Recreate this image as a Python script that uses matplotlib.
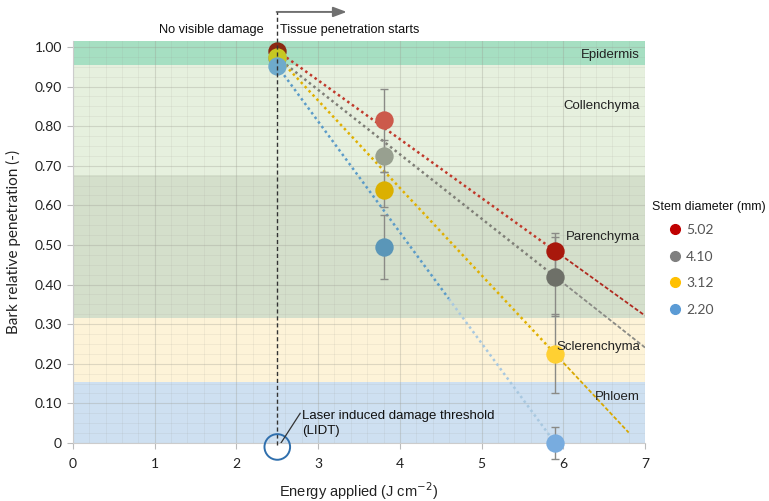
import numpy as np
import matplotlib
matplotlib.use("Agg")
import matplotlib.pyplot as plt
from matplotlib.lines import Line2D
from matplotlib.ticker import MultipleLocator

# ---- data ----
energy = [2.5, 3.8, 5.9]
diameters = ["5.02", "4.10", "3.12", "2.20"]
pen_502 = [0.99, 0.815, 0.485]
pen_410 = [0.973, 0.725, 0.42]
pen_312 = [0.975, 0.64, 0.225]
pen_220 = [0.952, 0.495, 0.0]
err_502 = [0.0, 0.08, 0.045]
err_410 = [0.0, 0.04, 0.10]
err_312 = [0.0, 0.043, 0.10]
err_220 = [0.0, 0.08, 0.04]
trend_end = [7.0, 7.0, 6.8, 5.9]

tissue_names = ["Epidermis", "Collenchyma", "Parenchyma", "Sclerenchyma", "Phloem"]
tissue_low = [0.955, 0.676, 0.316, 0.153, 0.0]
tissue_high = [1.015, 0.955, 0.676, 0.316, 0.153]
tissue_label_y = [0.98, 0.851, 0.52, 0.242, 0.116]

lidt_energy = 2.5
xticks = [0, 1, 2, 3, 4, 5, 6, 7]
yticks = [0, 0.1, 0.2, 0.3, 0.4, 0.5, 0.6, 0.7, 0.8, 0.9, 1.0]
ytick_labels = ["0", "0.10", "0.20", "0.30", "0.40", "0.50", "0.60", "0.70", "0.80", "0.90", "1.00"]

# ---- styles ----
band_colors = ["#a6dfc2", "#e6f0de", "#d4dfcb", "#fdf3d8", "#cee0f1"]
legend_colors = ["#c00000", "#7f7f7f", "#ffc000", "#5b9bd5"]
point_colors = [
    ["#8a2a12", "#cc5a4b", "#a8180c"],
    ["#8a8a80", "#98a090", "#6e7068"],
    ["#c6c823", "#dbb000", "#ffd032"],
    ["#6eaacb", "#5a96b8", "#78acdf"],
]
line_colors = ["#c0392b", "#7f7f77", "#e0b000", "#5b9bc8"]
ext_colors = ["#b02a20", "#8a8a85", "#d8a800", "#a8c8e0"]

series = [pen_502, pen_410, pen_312, pen_220]
errs = [err_502, err_410, err_312, err_220]

W, H = 769, 501
fig = plt.figure(figsize=(W / 100, H / 100), dpi=100)
ax = fig.add_axes([73 / W, 1 - 443 / H, (645 - 73) / W, (443 - 41) / H])
ax.set_xlim(0, 7)
ax.set_ylim(0, 1.015)

# bands
for lo, hi, c in zip(tissue_low, tissue_high, band_colors):
    ax.axhspan(lo, hi, color=c, zorder=0, lw=0)
for name, yl in zip(tissue_names, tissue_label_y):
    ax.text(6.94, yl, name, ha="right", va="center", fontsize=9.5,
            family="Liberation Sans", color="#222222", zorder=6)

# grid
ax.xaxis.set_minor_locator(MultipleLocator(0.2))
ax.yaxis.set_minor_locator(MultipleLocator(0.025))
ax.grid(which="major", color="#9a9a90", alpha=0.32, lw=0.8, zorder=1)
ax.grid(which="minor", color="#9a9a90", alpha=0.14, lw=0.6, zorder=1)
ax.set_axisbelow(True)

# trend lines
for i, (ys, xe) in enumerate(zip(series, trend_end)):
    slope = (ys[2] - ys[0]) / (energy[2] - energy[0])
    y_last = ys[0] + slope * (energy[2] - energy[0])
    if i == 3:
        xm = 4.6
        ym = ys[0] + slope * (xm - energy[0])
        ax.plot([energy[0], xm], [ys[0], ym], color=line_colors[i], lw=1.8,
                ls=(0, (1, 1.3)), zorder=2)
        ax.plot([xm, energy[2]], [ym, y_last], color=ext_colors[i], lw=1.8,
                ls=(0, (1, 1.3)), zorder=2)
    else:
        ax.plot([energy[0], energy[2]], [ys[0], y_last], color=line_colors[i], lw=1.8,
                ls=(0, (1, 1.3)), zorder=2)
        ye = ys[0] + slope * (xe - energy[0])
        ax.plot([energy[2], xe], [y_last, ye], color=ext_colors[i], lw=1.3,
                ls=(0, (2.2, 1.2)), zorder=2)

# error bars and points
for i, (ys, es) in enumerate(zip(series, errs)):
    ax.errorbar(energy[1:], ys[1:], yerr=es[1:], fmt="none", ecolor="#8a8a86",
                elinewidth=1.0, capsize=3.0, capthick=1.0, zorder=3, clip_on=False)
for i, ys in enumerate(series):
    for j, (x, y) in enumerate(zip(energy, ys)):
        ax.scatter([x], [y], s=175, color=point_colors[i][j], zorder=4,
                   lw=0, clip_on=False)

# LIDT vertical dashed line and arrow
ytop = (443 - 12) / 396
ax.plot([lidt_energy, lidt_energy], [-0.005, ytop], color="#333333", lw=1.0,
        ls=(0, (3, 2)), clip_on=False, zorder=5)
ax.annotate("", xy=(3.35, ytop), xytext=(lidt_energy - 0.008, ytop),
            arrowprops=dict(arrowstyle="-|>,head_length=0.8,head_width=0.3",
                            color="#707070", lw=1.4, shrinkA=0, shrinkB=0),
            annotation_clip=False)
ax.text(2.33, 1.043, "No visible damage", ha="right", va="center", fontsize=9.2,
        family="Liberation Sans", color="#111111")
ax.text(2.53, 1.043, "Tissue penetration starts", ha="left", va="center", fontsize=9.2,
        family="Liberation Sans", color="#111111")

# LIDT circle and label
ax.scatter([lidt_energy], [-0.01], s=340, facecolors="none", edgecolors="#2f6fad",
           lw=1.4, clip_on=False, zorder=6)
ax.plot([lidt_energy + 0.02, lidt_energy + 0.28], [-0.008, 0.075], color="#333333",
        lw=0.9, zorder=6)
ax.text(2.8, 0.05, "Laser induced damage threshold\n(LIDT)", ha="left", va="center",
        fontsize=9.5, family="Liberation Sans", color="#111111", linespacing=1.35)

# axes styling
ax.set_xticks(xticks)
ax.set_xticklabels([str(t) for t in xticks])
ax.set_yticks(yticks)
ax.set_yticklabels(ytick_labels)
ax.tick_params(which="major", length=4, color="#bbbbbb", labelsize=10, pad=4,
               labelcolor="#222222")
ax.tick_params(axis="x", which="major", pad=7)
ax.tick_params(which="minor", length=0)
for lab in ax.get_xticklabels() + ax.get_yticklabels():
    lab.set_family("Lato")
for s in ["top", "right"]:
    ax.spines[s].set_visible(False)
for s in ["left", "bottom"]:
    ax.spines[s].set_color("#cccccc")
    ax.spines[s].set_linewidth(0.8)

ax.set_ylabel("Bark relative penetration (-)", fontsize=11, family="Lato",
              color="#222222", labelpad=10)
ax.set_xlabel("Energy applied (J cm$^{-2}$)", fontsize=10.5, family="Liberation Sans",
              color="#222222", labelpad=7)

# legend
fig.text(652 / W, 1 - 207 / H, "Stem diameter (mm)", ha="left", va="center",
         fontsize=9, family="Liberation Sans", color="#111111")
handles = [Line2D([], [], ls="none", marker="o", ms=7, mfc=c, mec=c) for c in legend_colors]
leg = fig.legend(handles, diameters, loc="upper left",
                 bbox_to_anchor=(664 / W, 1 - 224 / H), frameon=False, fontsize=10,
                 labelspacing=1.05, handletextpad=0.0, handlelength=1.6,
                 borderaxespad=0, borderpad=0)
for t in leg.get_texts():
    t.set_family("Lato")
    t.set_color("#555555")

fig.savefig("out.png", dpi=100)
